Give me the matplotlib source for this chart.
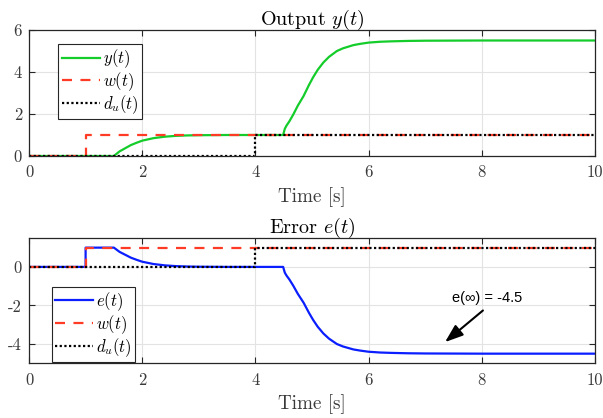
import numpy as np
import matplotlib
matplotlib.use("Agg")
import matplotlib.pyplot as plt

# ---------------- data ----------------
t_y = [0, 1.5, 1.6, 1.7, 1.8, 1.9, 2.0, 2.2, 2.4, 2.6, 2.8, 3.0, 3.5, 4.0, 4.49,
       4.52, 4.55, 4.6, 4.67, 4.75, 4.85, 4.95, 5.02, 5.1, 5.2, 5.3, 5.44, 5.55,
       5.73, 5.85, 6.0, 6.2, 6.4, 6.7, 7.0, 8.0, 10.0]
y_vals = [0, 0, 0.22, 0.37, 0.52, 0.63, 0.73, 0.85, 0.92, 0.96, 0.98, 0.99, 1.0, 1.0, 1.0,
          1.3, 1.45, 1.65, 1.98, 2.4, 2.85, 3.4, 3.75, 4.1, 4.45, 4.72, 5.0, 5.13,
          5.28, 5.34, 5.40, 5.44, 5.46, 5.48, 5.49, 5.5, 5.5]

t_w = [0, 1, 1, 10]
w_vals = [0, 0, 1, 1]

t_d = [0, 4, 4, 10]
d_vals = [0, 0, 1, 1]

t_e = [0, 1, 1, 1.5, 1.6, 1.7, 1.8, 1.9, 2.0, 2.2, 2.4, 2.6, 2.8, 3.0, 3.5, 4.0, 4.49,
       4.52, 4.55, 4.6, 4.67, 4.75, 4.85, 4.95, 5.02, 5.1, 5.2, 5.3, 5.44, 5.55,
       5.73, 5.85, 6.0, 6.2, 6.4, 6.7, 7.0, 8.0, 10.0]
e_vals = [0, 0, 1, 1, 0.78, 0.63, 0.48, 0.37, 0.27, 0.15, 0.08, 0.04, 0.02, 0.01, 0.0, 0.0, 0.0,
          -0.3, -0.45, -0.65, -0.98, -1.4, -1.85, -2.4, -2.75, -3.1, -3.45, -3.72, -4.0, -4.13,
          -4.28, -4.34, -4.40, -4.44, -4.46, -4.48, -4.49, -4.5, -4.5]

x_ticks = [0, 2, 4, 6, 8, 10]
y_ticks_top = [0, 2, 4, 6]
y_ticks_bot = [-4, -2, 0]

annot_text = "e(\u221e) = -4.5"
annot_text_pos = (8.09, -1.60)
arrow_tip = (7.35, -3.90)
arrow_tail = (8.02, -2.26)

# ---------------- style ----------------
plt.rcParams['font.family'] = 'serif'
plt.rcParams['font.serif'] = ['cmr10', 'DejaVu Serif']
plt.rcParams['mathtext.fontset'] = 'cm'
plt.rcParams['axes.unicode_minus'] = False
plt.rcParams['axes.formatter.use_mathtext'] = False

GREEN = '#14cc2a'
BLUE = '#0a1eff'
RED = '#ff3b26'
AX = '#262626'
TXT = '#3a3a3a'

fig = plt.figure(figsize=(6.03, 4.18), dpi=100)
ax1 = fig.add_axes([29/603, 1-156/418, 566/603, 126/418])
ax2 = fig.add_axes([29/603, 1-363.3/418, 566/603, 125.3/418])

def style(ax):
    ax.set_xlim(0, 10)
    ax.set_xticks(x_ticks)
    ax.grid(True, color='#e3e3e3', linewidth=0.8)
    ax.set_axisbelow(True)
    for s in ax.spines.values():
        s.set_color(AX)
        s.set_linewidth(0.9)
    ax.tick_params(direction='in', top=True, right=True, length=4, width=0.8,
                   colors=AX, labelsize=12)
    ax.tick_params(axis='x', pad=6.5)
    ax.tick_params(axis='y', pad=5)
    for lab in ax.get_xticklabels() + ax.get_yticklabels():
        lab.set_color(TXT)
    ax.set_xlabel('Time [s]', fontsize=13.8, color=TXT, labelpad=5)

lw = 1.6
dash = (0, (4.5, 3.8))
dots = (0, (1, 1.1))
ax1.plot(t_y, y_vals, color=GREEN, lw=lw, label=r'$y(t)$')
ax1.plot(t_w, w_vals, color=RED, lw=lw, ls=dash, label=r'$w(t)$')
ax1.plot(t_d, d_vals, color='black', lw=lw, ls=dots, label=r'$d_u(t)$')
ax1.set_ylim(0, 6)
ax1.set_yticks(y_ticks_top)
style(ax1)
ax1.set_title(r'Output $y(t)$', fontsize=14.5, pad=4)

ax2.plot(t_e, e_vals, color=BLUE, lw=lw, label=r'$e(t)$')
ax2.plot(t_w, w_vals, color=RED, lw=lw, ls=dash, label=r'$w(t)$')
ax2.plot(t_d, d_vals, color='black', lw=lw, ls=dots, label=r'$d_u(t)$')
ax2.set_ylim(-5, 1.5)
ax2.set_yticks(y_ticks_bot)
style(ax2)
ax2.set_title(r'Error $e(t)$', fontsize=14.5, pad=4)

for ax, anchor in ((ax1, (0.0518, 0.8865)), (ax2, (0.040, 0.608))):
    leg = ax.legend(loc='upper left', bbox_to_anchor=anchor, borderaxespad=0,
                    fontsize=12, handlelength=2.28, handletextpad=0.18,
                    labelspacing=0.0, borderpad=0.2, fancybox=False,
                    framealpha=1, edgecolor=AX)
    leg.get_frame().set_linewidth(0.8)

ax2.text(annot_text_pos[0], annot_text_pos[1], annot_text, fontsize=10.5,
         family='Liberation Sans', ha='center', va='center', color='black')
ax2.annotate('', xy=arrow_tip, xytext=arrow_tail, textcoords='data',
             arrowprops=dict(arrowstyle='-|>,head_length=0.55,head_width=0.2',
                             mutation_scale=20, color='black', lw=1.5,
                             shrinkA=0, shrinkB=0))

fig.savefig('out.png', dpi=100)
